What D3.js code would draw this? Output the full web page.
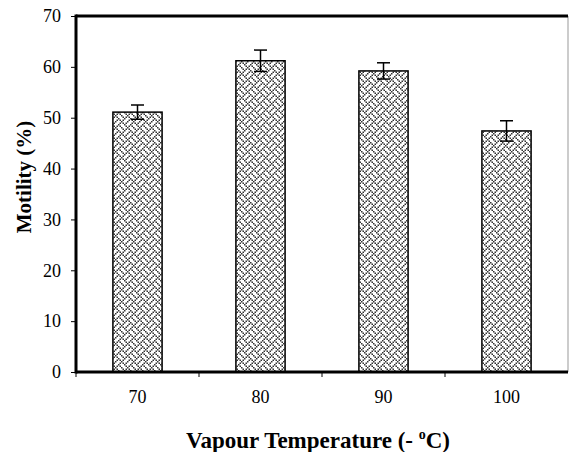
<!DOCTYPE html>
<html>
<head>
<meta charset="utf-8">
<script src="https://cdn.jsdelivr.net/npm/d3@7"></script>
<style>
  body { margin: 0; background: #fff; }
  svg text { font-family: "Liberation Serif", "Times New Roman", Times, serif !important; }
</style>
</head>
<body>
<div id="chart"></div>
<script>
// data
const temps = ["70", "80", "90", "100"];
const motility = [51.1, 61.2, 59.2, 47.4];
const errors = [1.4, 2.1, 1.6, 2.0];
const yTicks = [0, 10, 20, 30, 40, 50, 60, 70];

const width = 569, height = 452;
const margin = { top: 16, right: 1, bottom: 80, left: 76 };
const plotW = width - margin.left - margin.right;
const plotH = height - margin.top - margin.bottom;

const svg = d3.select('#chart').append('svg')
  .attr('width', width)
  .attr('height', height)
  .attr('font-family', '"Liberation Serif", serif');

// weave fill pattern
const bits = [
  "X...X...",
  ".X.X.X..",
  "..X...X.",
  ".X.X...X",
  "X...X...",
  "...X.X.X",
  "..X...X.",
  ".X...X.X"
];
const px = 1.5;
const pat = svg.append('defs').append('pattern')
  .attr('id', 'weave')
  .attr('patternUnits', 'userSpaceOnUse')
  .attr('width', 8 * px)
  .attr('height', 8 * px);
pat.append('rect').attr('width', 8 * px).attr('height', 8 * px).attr('fill', '#fff');
bits.forEach((row, r) => {
  row.split('').forEach((c, k) => {
    if (c === 'X') {
      pat.append('rect')
        .attr('x', k * px).attr('y', r * px)
        .attr('width', px).attr('height', px)
        .attr('fill', '#333');
    }
  });
});

const g = svg.append('g')
  .attr('transform', `translate(${margin.left},${margin.top})`);

const x = d3.scaleBand()
  .domain(temps)
  .range([0, plotW])
  .paddingInner(0.6)
  .paddingOuter(0.3);

const y = d3.scaleLinear()
  .domain([0, 70])
  .range([plotH, 0]);

// right border (thin grey)
g.append('line')
  .attr('x1', plotW).attr('x2', plotW)
  .attr('y1', 0).attr('y2', plotH)
  .attr('stroke', '#999').attr('stroke-width', 1);

// bars
g.selectAll('.bar')
  .data(motility)
  .enter().append('rect')
  .attr('class', 'bar')
  .attr('x', (d, i) => x(temps[i]))
  .attr('y', d => y(d))
  .attr('width', x.bandwidth())
  .attr('height', d => plotH - y(d))
  .attr('fill', 'url(#weave)')
  .attr('stroke', '#000')
  .attr('stroke-width', 1.5);

// error bars
const cap = 6.5;
const eb = g.selectAll('.err')
  .data(motility)
  .enter().append('g')
  .attr('class', 'err')
  .attr('transform', (d, i) => `translate(${x(temps[i]) + x.bandwidth() / 2},0)`);
eb.append('line')
  .attr('y1', (d, i) => y(d + errors[i]))
  .attr('y2', (d, i) => y(d - errors[i]))
  .attr('stroke', '#000').attr('stroke-width', 1.5);
eb.append('line')
  .attr('x1', -cap).attr('x2', cap)
  .attr('y1', (d, i) => y(d + errors[i]))
  .attr('y2', (d, i) => y(d + errors[i]))
  .attr('stroke', '#000').attr('stroke-width', 1.5);
eb.append('line')
  .attr('x1', -cap).attr('x2', cap)
  .attr('y1', (d, i) => y(d - errors[i]))
  .attr('y2', (d, i) => y(d - errors[i]))
  .attr('stroke', '#000').attr('stroke-width', 1.5);

// y axis
const yAxis = g.append('g')
  .call(d3.axisLeft(y).tickValues(yTicks).tickSize(5).tickPadding(10))
  .attr('font-family', null)
  .attr('font-size', null);
yAxis.select('.domain').remove();
yAxis.selectAll('.tick line').attr('stroke', '#000');
yAxis.selectAll('text')
  .style('font-size', '18px')
  .attr('fill', '#000');

// x axis: ticks between categories, labels centred
const xAxis = g.append('g')
  .attr('transform', `translate(0,${plotH})`);
const step = x.step();
xAxis.selectAll('.xt')
  .data(temps)
  .enter().append('line')
  .attr('x1', (d) => x(d) + x.bandwidth() / 2 - step / 2)
  .attr('x2', (d) => x(d) + x.bandwidth() / 2 - step / 2)
  .attr('y1', 0).attr('y2', 5)
  .attr('stroke', '#000');
xAxis.selectAll('.xl')
  .data(temps)
  .enter().append('text')
  .attr('x', d => x(d) + x.bandwidth() / 2)
  .attr('y', 31)
  .attr('text-anchor', 'middle')
  .style('font-size', '18px')
  .attr('fill', '#000')
  .text(d => d);

// thick frame lines: left, top, bottom
g.append('line')
  .attr('x1', 0).attr('x2', 0)
  .attr('y1', -1.5).attr('y2', plotH + 1.5)
  .attr('stroke', '#000').attr('stroke-width', 3);
g.append('line')
  .attr('x1', 0).attr('x2', plotW)
  .attr('y1', 0).attr('y2', 0)
  .attr('stroke', '#000').attr('stroke-width', 3);
g.append('line')
  .attr('x1', 0).attr('x2', plotW)
  .attr('y1', plotH).attr('y2', plotH)
  .attr('stroke', '#000').attr('stroke-width', 3);

// axis titles
const xt = svg.append('text')
  .attr('x', 318)
  .attr('y', 448)
  .attr('text-anchor', 'middle')
  .style('font-size', '23px')
  .style('font-weight', 'bold');
xt.append('tspan').text('Vapour Temperature (- ');
xt.append('tspan').attr('dy', -9).style('font-size', '14px').text('o');
xt.append('tspan').attr('dy', 9).text('C)');

svg.append('text')
  .attr('transform', 'translate(31,177) rotate(-90)')
  .attr('text-anchor', 'middle')
  .style('font-size', '21px')
  .style('font-weight', 'bold')
  .text('Motility (%)');
</script>
</body>
</html>
